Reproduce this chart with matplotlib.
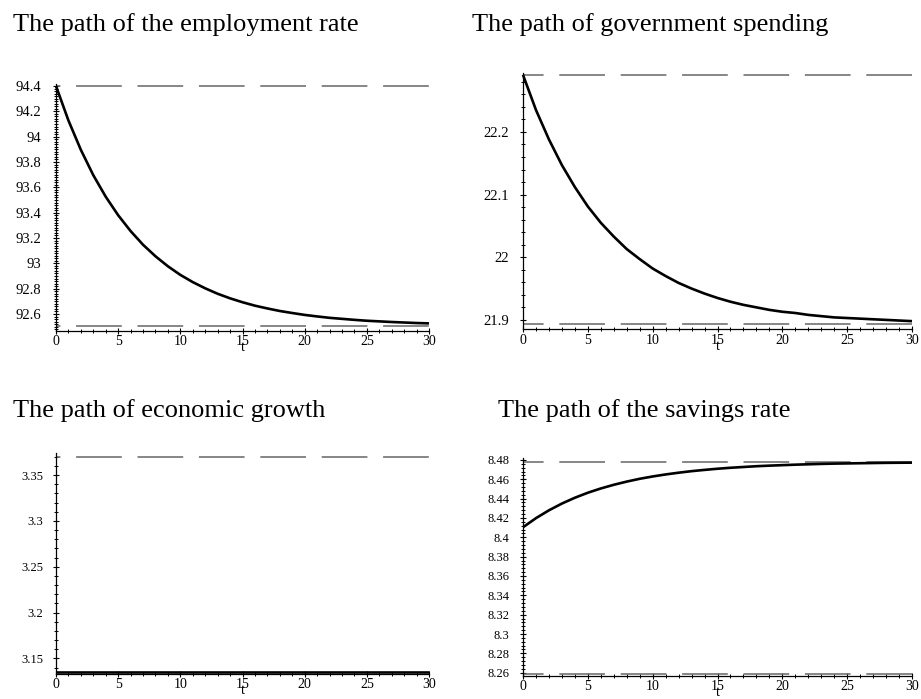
"""
Four steady-state transition paths (Maple-style plots) redrawn with matplotlib.
"""
import matplotlib; matplotlib.use("Agg")
import matplotlib.pyplot as plt
from matplotlib.ticker import MultipleLocator, FixedLocator, FuncFormatter

# ---- data ----
t = list(range(31))
employment = [94.400, 94.128, 93.896, 93.696, 93.526, 93.380, 93.255, 93.147, 93.056, 92.977,
              92.909, 92.852, 92.803, 92.760, 92.724, 92.693, 92.666, 92.644, 92.624, 92.608,
              92.593, 92.581, 92.570, 92.562, 92.554, 92.547, 92.542, 92.537, 92.533, 92.529,
              92.526]
gov_spending = [22.291, 22.235, 22.188, 22.147, 22.112, 22.081, 22.055, 22.033, 22.013, 21.997,
                21.982, 21.970, 21.959, 21.950, 21.942, 21.935, 21.929, 21.924, 21.920, 21.916,
                21.913, 21.911, 21.908, 21.906, 21.904, 21.903, 21.902, 21.901, 21.900, 21.899,
                21.898]
growth_t = [0, 30]
growth = [3.1352, 3.1352]
savings = [8.4104, 8.4198, 8.4279, 8.4349, 8.4409, 8.4461, 8.4505, 8.4543, 8.4576, 8.4605,
           8.4629, 8.4650, 8.4668, 8.4684, 8.4697, 8.4709, 8.4719, 8.4727, 8.4735, 8.4741,
           8.4746, 8.4751, 8.4755, 8.4759, 8.4762, 8.4764, 8.4766, 8.4768, 8.4770, 8.4771,
           8.4772]

# steady-state levels (dashed)
emp_ss = [92.508, 94.400]
gov_ss = [21.8936, 22.291]
growth_ss = [3.37]
sav_ss = [8.2586, 8.478]

# tick values
x_ticks = [0, 5, 10, 15, 20, 25, 30]
emp_ticks = [92.6, 92.8, 93.0, 93.2, 93.4, 93.6, 93.8, 94.0, 94.2, 94.4]
gov_ticks = [21.9, 22.0, 22.1, 22.2]
growth_ticks = [3.15, 3.2, 3.25, 3.3, 3.35]
sav_ticks = [8.26, 8.28, 8.30, 8.32, 8.34, 8.36, 8.38, 8.40, 8.42, 8.44, 8.46, 8.48]

titles = ["The path of the employment rate", "The path of government spending",
          "The path of economic growth", "The path of the savings rate"]

plt.rcParams["font.family"] = ["Liberation Serif", "DejaVu Serif"]
plt.rcParams["lines.scale_dashes"] = False

W, H = 921, 699
fig = plt.figure(figsize=(W / 100, H / 100), dpi=100)

def px(x0, y_top, x1, y_bot):
    return [x0 / W, 1 - y_bot / H, (x1 - x0) / W, (y_bot - y_top) / H]

# (title, title pos px, axes box px, x, y, ss levels, ylim, yticks, minor, ytick size, pad, dash offset px)
panels = [
    (titles[0], (13, 30.7), px(56, 84, 429, 331), t, employment, emp_ss,
     (92.466, 94.416), emp_ticks, 0.02, 10.5, 8.4, 41.3),
    (titles[1], (472, 30.7), px(523, 73, 912, 329.3), t, gov_spending, gov_ss,
     (21.885, 22.294), gov_ticks, 0.02, 10.5, 8.2, 25.1),
    (titles[2], (13, 416.7), px(56, 452.7, 429, 674), growth_t, growth, growth_ss,
     (3.133, 3.3744), growth_ticks, 0.01, 9, 7.0, 41.3),
    (titles[3], (498, 416.7), px(523, 458, 912, 676), t, savings, sav_ss,
     (8.2566, 8.482), sav_ticks, 0.004, 9, 7.8, 25.1),
]

on, off = 45.7 * 0.72, 15.7 * 0.72
for title, (tx, ty), box, xs, ys, ss, ylim, yt, ymin, yfs, ypad, doff in panels:
    fig.text(tx / W, 1 - ty / H, title, fontsize=19, va="baseline", ha="left")
    ax = fig.add_axes(box)
    for lvl in ss:
        ax.plot([x_ticks[0], x_ticks[-1]], [lvl, lvl], color="#666666", lw=1.1,
                linestyle=(doff * 0.72, (on, off)), clip_on=False)
    ax.plot(xs, ys, color="black", lw=1.9, clip_on=False, solid_capstyle="butt")
    ax.set_xlim(x_ticks[0], x_ticks[-1])
    ax.set_ylim(*ylim)
    for s in ("top", "right"):
        ax.spines[s].set_visible(False)
    for s in ("left", "bottom"):
        ax.spines[s].set_linewidth(0.9)
    ax.xaxis.set_major_locator(FixedLocator(x_ticks))
    ax.xaxis.set_minor_locator(MultipleLocator(1))
    ax.yaxis.set_major_locator(FixedLocator(yt))
    ax.yaxis.set_minor_locator(MultipleLocator(ymin))
    fmt = FuncFormatter(lambda v, p: f"{v:g}")
    ax.xaxis.set_major_formatter(fmt)
    ax.yaxis.set_major_formatter(fmt)
    ax.tick_params(which="major", direction="inout", length=4.3, width=0.8)
    ax.tick_params(which="minor", direction="inout", length=2.2, width=0.7)
    ax.tick_params(axis="x", which="major", labelsize=10, pad=1)
    ax.tick_params(axis="y", which="major", labelsize=yfs, pad=ypad)
    ax.set_xlabel("t", fontsize=10.5, labelpad=-5)
    ax.patch.set_visible(False)

fig.savefig("out.png", dpi=100)
